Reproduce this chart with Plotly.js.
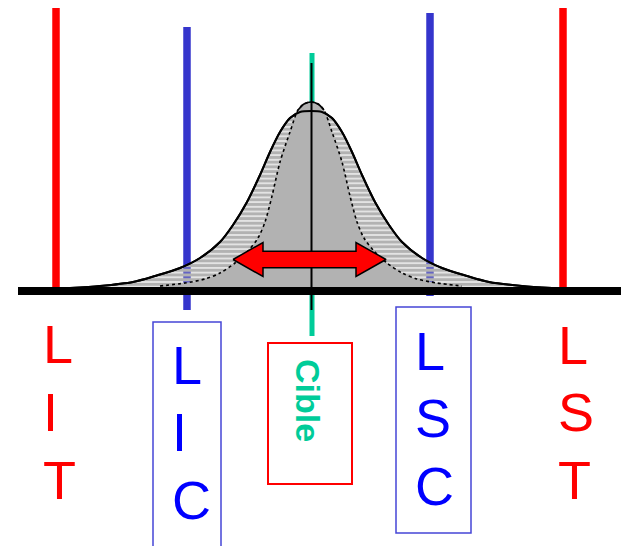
<!DOCTYPE html>
<html>
<head>
<meta charset="utf-8">
<script src="https://cdn.plot.ly/plotly-3.0.1.min.js"></script>
<style>
html,body{margin:0;padding:0;background:#fff;}
#chart{width:621px;height:546px;}
</style>
</head>
<body>
<div id="chart"></div>
<script>
// ---- data (x in chart units, heights above the baseline) ----
const limitNames = ['LIT', 'LIC', 'Cible', 'LSC', 'LST'];
const limitX     = [56, 187, 312, 430, 563];
const limitTop   = [280, 261, 235, 275, 280];
const limitBottom= [-2, -22, -48, -8, -2];

// wide (long-term) distribution
const outerX = [70,100,133,155,180,200,220,233,247,260,270,280,290,300,311,322,332,342,352,362,375,389,402,422,442,467,489,522,552];
const outerY = [0,2,6,12,20,30,46,63,86,113,136,156,170,176,177,176,170,156,136,113,86,63,46,30,20,12,6,2,0];

// narrow (short-term) distribution
const innerX = [160,185,205,220,235,248,258,265,272,280,290,298,304,311,318,324,332,342,350,357,364,374,387,402,417,437,462];
const innerY = [2,5,9,15,25,37,50,66,92,126,156,178,184,186,184,178,156,126,92,66,50,37,25,15,9,5,2];

// spread arrow ends and its level
const arrowEnds  = [233, 386];
const arrowLevel = 28.5;

// ---- styles ----
const RED = '#ff0000', BLUE_LINE = '#3535cc', BLUE_TXT = '#0000ff', TEAL = '#00cc99', GRAY = '#b2b2b2';
const lineColors = [RED, BLUE_LINE, TEAL, BLUE_LINE, RED];
const lineWidths = [7.5, 7.5, 5, 7.5, 7.5];

const traces = [];

// vertical limit lines (behind the curves)
limitNames.forEach((n, i) => {
  traces.push({
    type: 'scatter', mode: 'lines', hoverinfo: 'skip',
    x: [limitX[i], limitX[i]], y: [limitBottom[i], limitTop[i]],
    line: {color: lineColors[i], width: lineWidths[i]}
  });
});

// outer curve filled with horizontal hatching (gaps are see-through)
traces.push({
  type: 'scatter', mode: 'lines', hoverinfo: 'skip',
  x: outerX, y: outerY, fill: 'tozeroy',
  line: {color: '#000', width: 2, shape: 'spline', smoothing: 0.8},
  fillcolor: 'rgba(0,0,0,0)',
  fillpattern: {shape: '-', size: 4.7, solidity: 0.75, fgcolor: GRAY, fgopacity: 1, bgcolor: 'rgba(0,0,0,0)', fillmode: 'replace'}
});

// inner curve, solid gray with dotted edge
traces.push({
  type: 'scatter', mode: 'lines', hoverinfo: 'skip',
  x: innerX, y: innerY, fill: 'tozeroy', fillcolor: GRAY,
  line: {color: '#000', width: 1.6, dash: 'dot', shape: 'spline', smoothing: 0.8}
});

// solid outline of the inner cap above the outer curve
const capIdx = innerX.map((v, i) => i).filter(i => innerX[i] >= 296 && innerX[i] <= 326);
traces.push({
  type: 'scatter', mode: 'lines', hoverinfo: 'skip',
  x: capIdx.map(i => innerX[i]), y: capIdx.map(i => innerY[i]),
  line: {color: '#000', width: 1.6, shape: 'spline', smoothing: 0.8}
});

// outer outline again on top
traces.push({
  type: 'scatter', mode: 'lines', hoverinfo: 'skip',
  x: outerX, y: outerY,
  line: {color: '#000', width: 2, shape: 'spline', smoothing: 0.8}
});

// baseline
traces.push({
  type: 'scatter', mode: 'lines', hoverinfo: 'skip',
  x: [18, 621], y: [-3, -3],
  line: {color: '#000', width: 8}
});

// central black line
traces.push({
  type: 'scatter', mode: 'lines', hoverinfo: 'skip',
  x: [limitX[2] - 0.5, limitX[2] - 0.5], y: [-22, 225],
  line: {color: '#000', width: 2}
});

// red double arrow
const headLen = 30, headHalf = 17, shaftHalf = 8.3;
const a0 = arrowEnds[0], a1 = arrowEnds[1], L = arrowLevel;
traces.push({
  type: 'scatter', mode: 'lines', hoverinfo: 'skip', fill: 'toself', fillcolor: RED,
  x: [a0, a0 + headLen, a0 + headLen, a1 - headLen, a1 - headLen, a1, a1 - headLen, a1 - headLen, a0 + headLen, a0 + headLen, a0],
  y: [L, L + headHalf, L + shaftHalf, L + shaftHalf, L + headHalf, L, L - headHalf, L - shaftHalf, L - shaftHalf, L - headHalf, L],
  line: {color: '#000', width: 1.5}
});

// ---- letter labels ----
const letterCfg = {
  LIT: {x: 41,  ys: [-56, -124, -192], color: RED},
  LIC: {x: 170, ys: [-77, -144, -212], color: BLUE_TXT},
  LSC: {x: 413, ys: [-63, -130, -198], color: BLUE_TXT},
  LST: {x: 556, ys: [-57, -124, -192], color: RED}
};
const annotations = [];
['LIT', 'LIC', 'LSC', 'LST'].forEach(name => {
  const c = letterCfg[name];
  name.split('').forEach((ch, k) => {
    annotations.push({
      x: c.x, y: c.ys[k], xref: 'x', yref: 'y', text: ch, showarrow: false,
      xanchor: 'left', yanchor: 'middle',
      font: {family: 'Liberation Sans, Arial, sans-serif', size: 54, color: c.color}
    });
  });
});
annotations.push({
  x: 308, y: -112, xref: 'x', yref: 'y', text: '<b>' + limitNames[2] + '</b>', showarrow: false,
  textangle: 90, xanchor: 'center', yanchor: 'middle',
  font: {family: 'Liberation Sans, Arial, sans-serif', size: 34, color: TEAL}
});

const shapes = [
  {type: 'rect', xref: 'x', yref: 'y', x0: 153, x1: 221, y0: -34, y1: -272, line: {color: '#4646d6', width: 1.5}},
  {type: 'rect', xref: 'x', yref: 'y', x0: 268, x1: 352, y0: -55, y1: -196, line: {color: RED, width: 2}},
  {type: 'rect', xref: 'x', yref: 'y', x0: 396, x1: 471, y0: -19, y1: -245, line: {color: '#4646d6', width: 1.5}}
];

const layout = {
  width: 621, height: 546, autosize: false,
  margin: {l: 0, r: 0, t: 0, b: 0, pad: 0},
  paper_bgcolor: '#fff', plot_bgcolor: '#fff',
  showlegend: false,
  xaxis: {range: [0, 621], visible: false, fixedrange: true},
  yaxis: {range: [-258, 288], visible: false, fixedrange: true},
  annotations: annotations,
  shapes: shapes
};

Plotly.newPlot('chart', traces, layout, {displayModeBar: false, staticPlot: true});
</script>
</body>
</html>
